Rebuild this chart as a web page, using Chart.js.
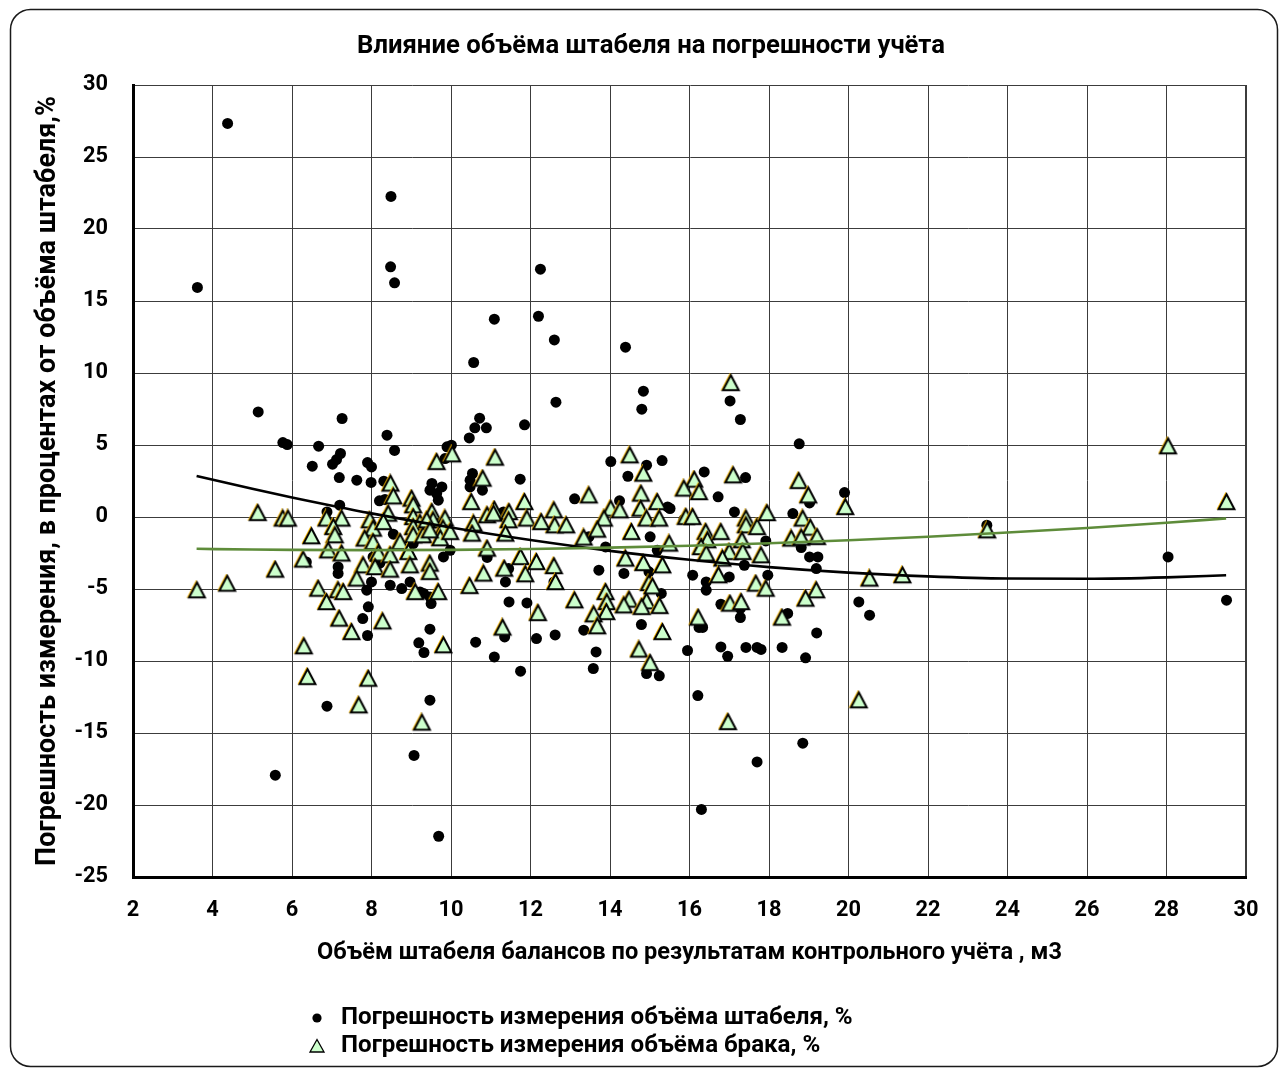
<!DOCTYPE html>
<html>
<head>
<meta charset="utf-8">
<script src="https://cdn.jsdelivr.net/npm/chart.js@4.4.1/dist/chart.umd.min.js"></script>
<style>
  html, body { margin: 0; padding: 0; background: #ffffff; }
  #wrap { width: 1284px; height: 1070px; }
</style>
</head>
<body>
<div id="wrap"><canvas id="chart" width="1284" height="1070"></canvas></div>
<script>
// Объём штабеля, м3 и погрешность измерения объёма штабеля, %
const stackVolume = [
  4.38, 3.62, 8.49, 8.48, 8.58, 5.15, 7.26, 5.77, 5.88, 6.67,
  8.39, 8.58, 9.90, 7.22, 7.12, 6.51, 7.02, 7.90, 8.00, 7.19,
  7.63, 7.99, 8.31, 9.52, 9.77, 9.47, 9.64, 8.20, 8.34, 7.20,
  6.88, 9.68, 8.55, 9.05, 6.36, 7.16, 7.16, 8.04, 8.21, 8.00,
  7.88, 8.47, 8.76, 8.97, 9.22, 9.47, 7.92, 7.78, 9.81, 9.47,
  7.90, 9.19, 9.32, 10.62, 6.88, 9.47, 9.07, 5.58, 9.69, 10.57,
  12.60, 14.39, 12.64, 14.84, 14.80, 10.72, 10.60, 10.89, 10.46, 11.85,
  10.01, 9.85, 10.54, 10.48, 10.79, 10.48, 11.74, 14.02, 14.45, 14.92,
  15.31, 13.11, 14.24, 15.45, 15.01, 13.47, 13.89, 15.19, 9.98, 11.32,
  10.91, 11.37, 11.45, 12.59, 13.72, 14.35, 14.98, 15.29, 9.50, 9.31,
  11.46, 11.91, 11.09, 11.35, 12.15, 12.62, 11.75, 13.34, 13.65, 13.58,
  14.79, 14.92, 15.24, 17.02, 17.28, 18.76, 16.37, 17.41, 16.72, 15.51,
  17.13, 15.86, 18.60, 19.02, 19.90, 17.92, 18.81, 19.02, 19.23, 16.08,
  16.42, 16.42, 17.00, 17.38, 17.97, 19.19, 16.79, 17.28, 17.28, 18.47,
  16.24, 16.33, 19.20, 20.26, 20.53, 15.95, 16.79, 16.96, 17.42, 17.70,
  17.80, 18.33, 18.92, 16.21, 18.85, 17.70, 16.30, 11.09, 12.20, 12.25,
  23.48, 28.04, 29.51
];
const stackError = [
  27.33, 15.94, 22.26, 17.37, 16.26, 7.30, 6.84, 5.17, 5.03, 4.92,
  5.68, 4.62, 4.87, 4.41, 3.99, 3.53, 3.67, 3.78, 3.48, 2.74,
  2.56, 2.40, 2.49, 2.33, 2.09, 1.86, 1.63, 1.12, 1.22, 0.82,
  0.35, 1.17, -1.19, -1.84, -3.12, -3.47, -3.92, -2.77, -3.21, -4.51,
  -5.08, -4.74, -4.97, -4.51, -5.20, -5.55, -6.24, -7.05, -2.77, -7.79,
  -8.23, -8.74, -9.41, -8.69, -13.14, -12.72, -16.56, -17.93, -22.17, 10.73,
  12.30, 11.79, 7.97, 8.74, 7.49, 6.86, 6.19, 6.19, 5.49, 6.40,
  4.99, 4.06, 3.02, 2.56, 1.86, 2.09, 2.63, 3.85, 2.83, 3.60,
  3.92, 1.26, 1.12, 0.70, -1.38, -1.38, -2.08, -2.31, -2.31, 0.35,
  -2.81, -4.51, -3.58, -4.51, -3.69, -3.92, -3.81, -5.31, -6.01, -5.31,
  -5.90, -5.97, -9.72, -8.33, -8.44, -8.19, -10.71, -7.86, -9.37, -10.52,
  -7.47, -10.87, -11.03, 8.06, 6.77, 5.08, 3.13, 2.74, 1.40, 0.59,
  0.35, -0.17, 0.24, 0.98, 1.70, -1.66, -2.12, -2.77, -2.77, -4.04,
  -4.51, -5.08, -4.16, -3.35, -4.04, -3.58, -6.06, -6.98, -6.35, -6.70,
  -7.67, -7.67, -8.05, -5.90, -6.82, -9.27, -9.02, -9.67, -9.06, -9.06,
  -9.20, -9.06, -9.78, -12.40, -15.71, -17.01, -20.31, 13.74, 13.94, 17.21,
  -0.57, -2.77, -5.78
];

// Объём штабеля, м3 и погрешность измерения объёма брака, %
const defectVolume = [
  9.64, 10.03, 5.14, 5.77, 5.90, 8.48, 8.55, 9.01, 9.05, 9.52,
  9.85, 6.87, 7.25, 7.04, 7.08, 6.49, 7.96, 8.04, 7.83, 8.04,
  8.42, 8.30, 9.05, 9.22, 9.05, 9.40, 9.55, 9.80, 9.05, 9.30,
  9.73, 8.72, 6.91, 7.25, 6.28, 5.58, 8.17, 8.47, 8.93, 7.79,
  8.09, 8.47, 8.97, 9.47, 9.47, 7.63, 3.61, 4.37, 6.66, 7.16,
  7.29, 6.87, 9.10, 9.68, 7.19, 8.28, 7.50, 6.30, 9.81, 6.39,
  7.92, 7.68, 9.27, 11.11, 10.80, 10.51, 11.85, 11.09, 11.46, 11.45,
  11.91, 12.59, 12.61, 12.27, 12.90, 13.47, 14.02, 14.25, 13.85, 13.68,
  13.34, 14.50, 14.84, 14.78, 15.19, 14.77, 14.92, 15.24, 14.54, 9.39,
  9.98, 9.47, 10.57, 10.53, 10.91, 11.07, 11.37, 10.91, 11.75, 15.49,
  10.47, 10.82, 11.34, 11.87, 12.15, 12.59, 12.63, 13.11, 12.19, 11.30,
  14.39, 14.84, 15.32, 14.98, 13.89, 13.92, 13.91, 13.59, 13.68, 14.48,
  14.35, 14.92, 14.80, 15.25, 15.32, 14.73, 15.01, 17.04, 17.10, 16.12,
  15.86, 16.24, 15.91, 16.08, 17.42, 17.42, 17.70, 17.95, 18.75, 18.99,
  19.92, 18.85, 19.04, 19.21, 18.56, 18.81, 16.41, 16.45, 16.29, 16.79,
  17.32, 17.00, 17.34, 17.80, 16.42, 16.83, 16.73, 17.67, 17.92, 19.19,
  18.92, 20.53, 15.07, 17.02, 17.30, 16.22, 18.33, 16.97, 20.26, 21.36,
  23.49, 28.04, 29.51
];
const defectError = [
  3.83, 4.36, 0.29, -0.10, -0.10, 2.33, 1.44, 1.28, 0.82, 0.35,
  -0.10, -0.10, -0.10, -0.69, -1.26, -1.33, -0.22, -0.80, -1.49, -1.73,
  0.24, -0.34, 0.00, -0.40, -0.70, -0.70, -0.22, -0.78, -1.26, -1.26,
  -1.47, -1.73, -2.31, -2.53, -2.95, -3.65, -2.53, -2.65, -2.42, -3.35,
  -3.47, -3.65, -3.35, -3.23, -3.81, -4.27, -5.08, -4.62, -4.97, -5.08,
  -5.20, -5.90, -5.20, -5.20, -7.05, -7.24, -7.98, -8.97, -8.90, -11.10,
  -11.22, -13.07, -14.27, 4.13, 2.67, 1.05, 1.05, 0.52, 0.35, -0.22,
  -0.10, 0.47, -0.57, -0.34, -0.57, 1.51, 0.59, 0.47, -0.10, -0.87,
  -1.42, 4.29, 3.02, 1.63, 1.05, 0.59, -0.10, -0.10, -1.03, -0.22,
  -1.03, -0.92, -0.45, -1.15, 0.13, 0.24, -1.15, -2.19, -2.77, -1.84,
  -4.78, -3.92, -3.58, -3.97, -3.12, -3.40, -4.51, -5.78, -6.66, -7.67,
  -2.88, -3.19, -3.35, -4.58, -5.20, -5.90, -6.59, -6.75, -7.58, -5.73,
  -6.13, -5.85, -6.24, -6.17, -7.98, -9.20, -10.13, 9.31, 2.90, 2.60,
  1.98, 1.74, 0.01, 0.01, -0.10, -0.57, -0.69, 0.28, 2.51, 1.51,
  0.70, -0.10, -0.73, -1.38, -1.49, -1.42, -1.03, -1.61, -2.08, -1.03,
  -1.61, -2.42, -2.42, -2.65, -2.53, -2.88, -4.04, -4.62, -4.97, -5.08,
  -5.66, -4.27, -4.81, -6.01, -5.90, -6.98, -6.98, -14.23, -12.72, -4.04,
  -0.92, 4.92, 1.05
];

// Линии тренда (полиномиальные), значения по оси X и Y
const stackTrendX = [3.6, 5, 6, 8, 10, 12, 14, 16, 18, 20, 22, 24, 26, 28, 29.5];
const stackTrendY = [2.85, 1.96, 1.36, 0.25, -0.73, -1.60, -2.35, -2.97, -3.48, -3.86, -4.12, -4.27, -4.29, -4.19, -4.04];
const defectTrendX = [3.6, 5, 6, 8, 10, 12, 14, 16, 18, 20, 22, 24, 26, 28, 29.5];
const defectTrendY = [-2.21, -2.26, -2.28, -2.30, -2.28, -2.22, -2.13, -2.00, -1.82, -1.61, -1.37, -1.08, -0.76, -0.40, -0.10];

// Деления осей
const xTickValues = [2, 4, 6, 8, 10, 12, 14, 16, 18, 20, 22, 24, 26, 28, 30];
const yTickValues = [-25, -20, -15, -10, -5, 0, 5, 10, 15, 20, 25, 30];

// Подписи
const chartTitle = 'Влияние объёма штабеля на погрешности учёта';
const xAxisTitle = 'Объём штабеля балансов по результатам контрольного учёта , м3';
const yAxisTitle = 'Погрешность измерения, в процентах от объёма штабеля,%';
const seriesNames = ['Погрешность измерения объёма штабеля, %', 'Погрешность измерения объёма брака, %'];

const FAMILY = 'Roboto, "Open Sans", "DejaVu Sans", sans-serif';
const TRI_FILL = '#ccffcc';
const TREND_GREEN = '#5e8c3a';

// font size that makes a bold string occupy a given width
const meas = document.createElement('canvas').getContext('2d');
function fitSize(text, width) {
  meas.font = 'bold 100px ' + FAMILY;
  return 100 * width / meas.measureText(text).width;
}
const titleSize = fitSize(chartTitle, 588);
const xTitleSize = fitSize(xAxisTitle, 745);
const yTitleSize = fitSize(yAxisTitle, 770);
const legendSize = fitSize(seriesNames[0], 512);
const tickSize = fitSize('30', 25);

// triangle marker with a thin amber edge on the upper left
function makeTriangle() {
  const c = document.createElement('canvas');
  c.width = 21; c.height = 20;
  const g = c.getContext('2d');
  const cx = 10.5, top = 2.3, bot = 17.3, half = 7.9;
  const path = (dx, dy) => {
    g.beginPath();
    g.moveTo(cx + dx, top + dy);
    g.lineTo(cx + half + dx, bot + dy);
    g.lineTo(cx - half + dx, bot + dy);
    g.closePath();
  };
  path(-0.9, -0.7);
  g.strokeStyle = '#f2b400';
  g.lineWidth = 1.6;
  g.stroke();
  path(0, 0);
  g.fillStyle = TRI_FILL;
  g.fill();
  g.lineJoin = 'miter';
  g.strokeStyle = '#000000';
  g.lineWidth = 2;
  g.stroke();
  return c;
}
const triangleImg = makeTriangle();

const toPoints = (xs, ys) => xs.map((x, i) => ({ x: x, y: ys[i] }));

// frame, title and legend
const decorPlugin = {
  id: 'decor',
  beforeDraw(chart) {
    const ctx = chart.ctx;
    ctx.save();
    ctx.fillStyle = '#ffffff';
    ctx.fillRect(0, 0, chart.width, chart.height);
    ctx.restore();
  },
  afterDraw(chart) {
    const ctx = chart.ctx;
    ctx.save();
    // rounded outer frame
    ctx.beginPath();
    ctx.roundRect(10.5, 9.5, 1267, 1057, 20);
    ctx.lineWidth = 1.5;
    ctx.strokeStyle = '#1a1a1a';
    ctx.stroke();

    // title
    ctx.fillStyle = '#000000';
    ctx.font = 'bold ' + titleSize.toFixed(2) + 'px ' + FAMILY;
    ctx.textAlign = 'center';
    ctx.textBaseline = 'middle';
    ctx.fillText(chartTitle, 651, 47);

    // legend
    ctx.font = 'bold ' + legendSize.toFixed(2) + 'px ' + FAMILY;
    ctx.textAlign = 'left';
    ctx.fillText(seriesNames[0], 341, 1018);
    ctx.fillText(seriesNames[1], 341, 1046);
    ctx.beginPath();
    ctx.arc(317, 1018, 4.6, 0, Math.PI * 2);
    ctx.fillStyle = '#000000';
    ctx.fill();
    ctx.beginPath();
    ctx.moveTo(317, 1039.5);
    ctx.lineTo(324, 1052);
    ctx.lineTo(310, 1052);
    ctx.closePath();
    ctx.fillStyle = TRI_FILL;
    ctx.fill();
    ctx.lineWidth = 1.3;
    ctx.strokeStyle = '#000000';
    ctx.stroke();
    ctx.restore();
  }
};

const gridColor = '#3c3c3c';

new Chart(document.getElementById('chart'), {
  type: 'scatter',
  data: {
    datasets: [
      {
        label: 'Полиномиальная (брак)',
        data: toPoints(defectTrendX, defectTrendY),
        showLine: true,
        borderColor: TREND_GREEN,
        borderWidth: 2.6,
        pointRadius: 0,
        cubicInterpolationMode: 'monotone',
        order: 0
      },
      {
        label: 'Полиномиальная (штабель)',
        data: toPoints(stackTrendX, stackTrendY),
        showLine: true,
        borderColor: '#000000',
        borderWidth: 2.6,
        pointRadius: 0,
        cubicInterpolationMode: 'monotone',
        order: 1
      },
      {
        label: seriesNames[1],
        data: toPoints(defectVolume, defectError),
        pointStyle: triangleImg,
        pointRadius: 8,
        order: 2
      },
      {
        label: seriesNames[0],
        data: toPoints(stackVolume, stackError),
        pointStyle: 'circle',
        pointRadius: 5.5,
        borderWidth: 0,
        backgroundColor: '#000000',
        borderColor: '#000000',
        order: 3
      }
    ]
  },
  options: {
    responsive: false,
    animation: false,
    devicePixelRatio: 1,
    layout: { padding: { left: 0, top: 85, right: 38, bottom: 93 } },
    plugins: {
      legend: { display: false },
      title: { display: false },
      tooltip: { enabled: false }
    },
    scales: {
      x: {
        type: 'linear',
        min: 2,
        max: 30,
        afterBuildTicks: (scale) => { scale.ticks = xTickValues.map(v => ({ value: v })); },
        afterFit: (scale) => { scale.height = 100; },
        grid: {
          drawTicks: false,
          color: gridColor,
          lineWidth: (c) => (c.tick && c.tick.value === 30 ? 2 : 1)
        },
        border: { display: true, color: '#000000', width: 3 },
        ticks: {
          padding: 20,
          color: '#000000',
          font: { family: FAMILY, size: tickSize, weight: 'bold' },
          callback: (v) => String(v)
        },
        title: {
          display: true,
          text: xAxisTitle,
          color: '#000000',
          font: { family: FAMILY, size: xTitleSize, weight: 'bold' },
          padding: { top: 0, bottom: 24 - xTitleSize * 0.6 }
        }
      },
      y: {
        type: 'linear',
        min: -25,
        max: 30,
        afterBuildTicks: (scale) => { scale.ticks = yTickValues.map(v => ({ value: v })); },
        afterFit: (scale) => { scale.width = 133; },
        grid: {
          drawTicks: false,
          color: gridColor,
          lineWidth: 1
        },
        border: { display: true, color: '#000000', width: 3 },
        ticks: {
          padding: 25,
          color: '#000000',
          font: { family: FAMILY, size: tickSize, weight: 'bold' },
          callback: (v) => String(v)
        },
        title: {
          display: true,
          text: yAxisTitle,
          color: '#000000',
          font: { family: FAMILY, size: yTitleSize, weight: 'bold' },
          padding: { top: 48 - yTitleSize * 0.6, bottom: 0 }
        }
      }
    }
  },
  plugins: [decorPlugin]
});
</script>
</body>
</html>
